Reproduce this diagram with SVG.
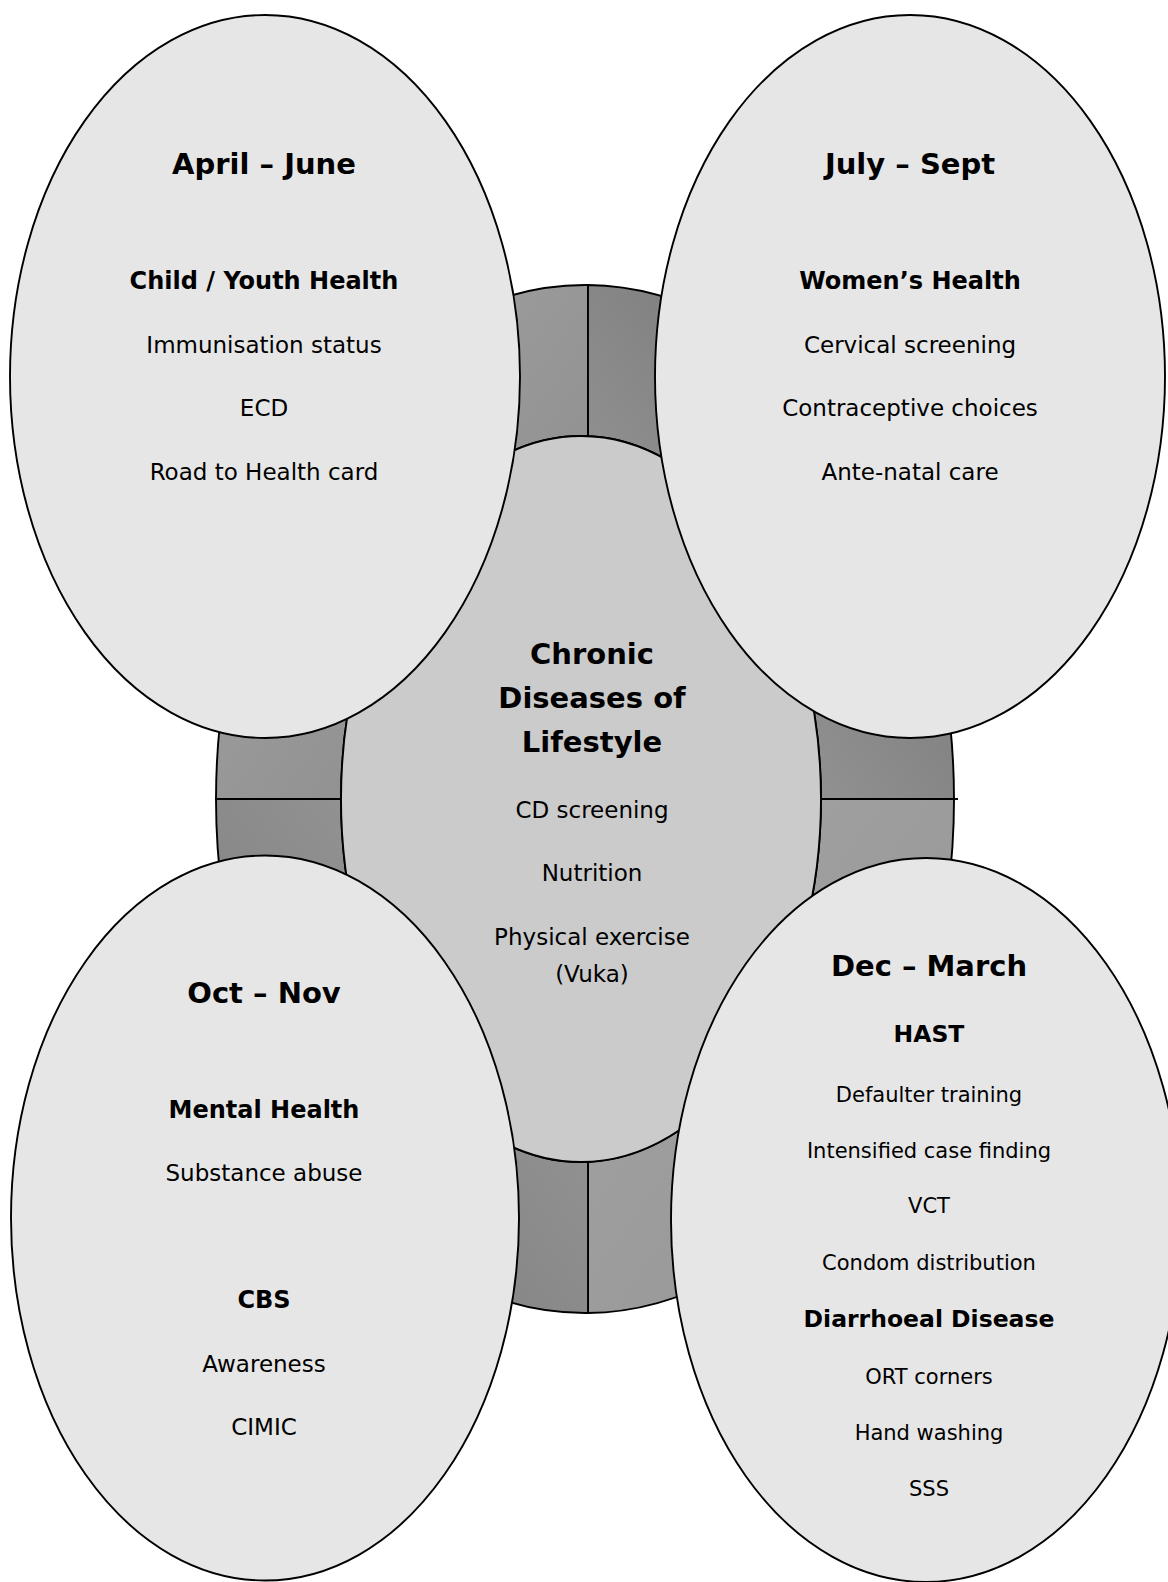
<svg xmlns="http://www.w3.org/2000/svg" width="1168" height="1582" viewBox="0 0 1168 1582">
<defs>
<linearGradient id="gTL" x1="0" y1="0" x2="1" y2="1"><stop offset="0" stop-color="#a6a6a6"/><stop offset="1" stop-color="#888888"/></linearGradient>
<linearGradient id="gTR" x1="0" y1="1" x2="1" y2="0"><stop offset="0" stop-color="#a2a2a2"/><stop offset="1" stop-color="#6c6c6c"/></linearGradient>
<linearGradient id="gBR" x1="0" y1="0" x2="1" y2="1"><stop offset="0" stop-color="#a4a4a4"/><stop offset="1" stop-color="#949494"/></linearGradient>
<linearGradient id="gBL" x1="1" y1="0" x2="0" y2="1"><stop offset="0" stop-color="#9e9e9e"/><stop offset="1" stop-color="#787878"/></linearGradient>
<style>
.seg{stroke:#000;stroke-width:1.9}
.big{fill:#e6e6e6;stroke:#000;stroke-width:1.9}
.inner{fill:#cbcbcb;stroke:#000;stroke-width:1.9}
text{font-family:"DejaVu Sans",Verdana,sans-serif;fill:#000;text-anchor:middle;dominant-baseline:central}
.t{font-size:29px;font-weight:bold}
.h{font-size:24px;font-weight:bold}
.n{font-size:23px}
.h2{font-size:23.5px;font-weight:bold}
.n2{font-size:21px}
</style>
</defs>
<rect width="1168" height="1582" fill="#fff"/>
<g id="ring">
<path class="seg" fill="url(#gTL)" d="M 588 285 A 369 514 0 0 0 216 799 L 341 799 A 240 363 0 0 1 588 436 Z"/>
<path class="seg" fill="url(#gTR)" d="M 588 285 A 369 514 0 0 1 954 799 L 821 799 A 240 363 0 0 0 588 436 Z"/>
<path class="seg" fill="url(#gBR)" d="M 954 799 A 369 514 0 0 1 588 1313 L 588 1162 A 240 363 0 0 0 821 799 Z"/>
<path class="seg" fill="url(#gBL)" d="M 588 1313 A 369 514 0 0 1 216 799 L 341 799 A 240 363 0 0 0 588 1162 Z"/>
<line x1="954" y1="799" x2="958" y2="799" stroke="#000" stroke-width="1.9"/>
</g>
<g id="center">
<ellipse class="inner" cx="581" cy="799" rx="240" ry="363"/>
<text class="t" x="592" y="654">Chronic</text>
<text class="t" x="592" y="698">Diseases of</text>
<text class="t" x="592" y="742">Lifestyle</text>
<text class="n" x="592" y="810">CD screening</text>
<text class="n" x="592" y="873">Nutrition</text>
<text class="n" x="592" y="937">Physical exercise</text>
<text class="n" x="592" y="974">(Vuka)</text>
</g>
<g id="april-june">
<ellipse class="big" cx="265" cy="376.5" rx="255" ry="361.5"/>
<text class="t" x="264" y="164">April – June</text>
<text class="h" x="264" y="281">Child / Youth Health</text>
<text class="n" x="264" y="345">Immunisation status</text>
<text class="n" x="264" y="408">ECD</text>
<text class="n" x="264" y="472">Road to Health card</text>
</g>
<g id="july-sept">
<ellipse class="big" cx="910" cy="376.5" rx="255" ry="361.5"/>
<text class="t" x="910" y="164">July – Sept</text>
<text class="h" x="910" y="281">Women’s Health</text>
<text class="n" x="910" y="345">Cervical screening</text>
<text class="n" x="910" y="408">Contraceptive choices</text>
<text class="n" x="910" y="472">Ante-natal care</text>
</g>
<g id="oct-nov">
<ellipse class="big" cx="265" cy="1218" rx="254" ry="362.5"/>
<text class="t" x="264" y="993">Oct – Nov</text>
<text class="h" x="264" y="1110">Mental Health</text>
<text class="n" x="264" y="1173">Substance abuse</text>
<text class="h" x="264" y="1300">CBS</text>
<text class="n" x="264" y="1364">Awareness</text>
<text class="n" x="264" y="1427">CIMIC</text>
</g>
<g id="dec-march">
<ellipse class="big" cx="926" cy="1220" rx="255" ry="362"/>
<text class="t" x="929" y="966">Dec – March</text>
<text class="h2" x="929" y="1034">HAST</text>
<text class="n2" x="929" y="1095">Defaulter training</text>
<text class="n2" x="929" y="1151">Intensified case finding</text>
<text class="n2" x="929" y="1206">VCT</text>
<text class="n2" x="929" y="1263">Condom distribution</text>
<text class="h2" x="929" y="1319">Diarrhoeal Disease</text>
<text class="n2" x="929" y="1377">ORT corners</text>
<text class="n2" x="929" y="1433">Hand washing</text>
<text class="n2" x="929" y="1489">SSS</text>
</g>
</svg>
